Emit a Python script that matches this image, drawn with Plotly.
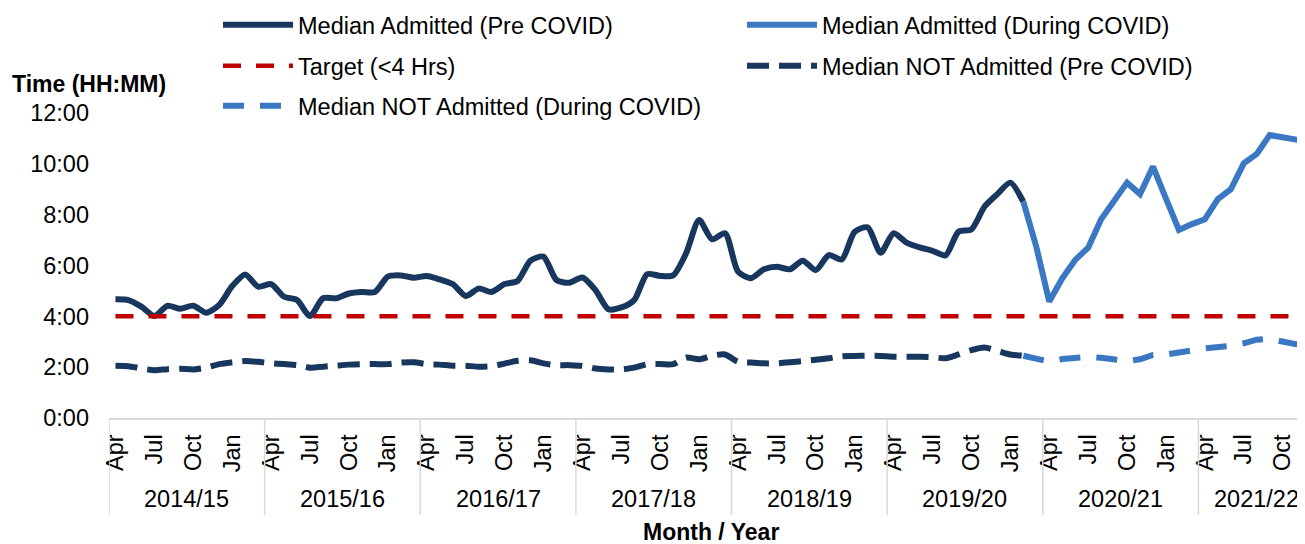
import plotly.graph_objects as go

# ---------------- data ----------------
FISCAL_YEARS = ["2014/15", "2015/16", "2016/17", "2017/18", "2018/19", "2019/20", "2020/21", "2021/22"]
FY_MONTHS = ["Apr", "May", "Jun", "Jul", "Aug", "Sep", "Oct", "Nov", "Dec", "Jan", "Feb", "Mar"]
MONTHS_IN_LAST_YEAR = 9          # Apr..Dec 2021
TICK_MONTHS = ["Apr", "Jul", "Oct", "Jan"]
Y_TICKS = [0, 2, 4, 6, 8, 10, 12]
Y_TICK_TEXT = ["0:00", "2:00", "4:00", "6:00", "8:00", "10:00", "12:00"]
TARGET_HOURS = 4

# Median time (hours) - admitted, pre COVID (Apr 2014 .. Feb 2020)
admitted_pre = [
    4.67, 4.64, 4.38, 4.01, 4.41, 4.30, 4.42, 4.14, 4.45, 5.19, 5.65, 5.17,
    5.27, 4.77, 4.64, 4.01, 4.71, 4.71, 4.90, 4.96, 4.96, 5.56, 5.61, 5.52,
    5.59, 5.45, 5.27, 4.80, 5.09, 4.96, 5.27, 5.39, 6.19, 6.35, 5.43, 5.32,
    5.53, 5.04, 4.28, 4.35, 4.64, 5.66, 5.59, 5.61, 6.48, 7.79, 7.03, 7.27,
    5.76, 5.50, 5.85, 5.95, 5.85, 6.19, 5.82, 6.41, 6.24, 7.33, 7.50, 6.50,
    7.27, 6.90, 6.71, 6.58, 6.40, 7.33, 7.42, 8.31, 8.81, 9.26, 8.51,
]
# admitted, during COVID (Feb 2020 .. Dec 2021)
admitted_during = [
    8.51, 6.74, 4.58, 5.49, 6.22, 6.70, 7.82, 8.54, 9.26, 8.81, 9.89, 8.63,
    7.40, 7.63, 7.82, 8.61, 9.00, 10.02, 10.39, 11.13, 11.04, 10.94, 10.87,
]
# not admitted, pre COVID (Apr 2014 .. Feb 2020)
not_admitted_pre = [
    2.06, 2.04, 1.95, 1.88, 1.92, 1.94, 1.91, 1.98, 2.12, 2.19, 2.24, 2.21,
    2.15, 2.12, 2.08, 1.98, 2.02, 2.06, 2.10, 2.12, 2.12, 2.12, 2.18, 2.19,
    2.12, 2.10, 2.06, 2.06, 2.02, 2.04, 2.14, 2.25, 2.27, 2.15, 2.08, 2.08,
    2.05, 1.95, 1.91, 1.91, 1.98, 2.11, 2.12, 2.12, 2.38, 2.31, 2.45, 2.50,
    2.21, 2.18, 2.15, 2.15, 2.19, 2.24, 2.29, 2.35, 2.43, 2.44, 2.45, 2.44,
    2.41, 2.41, 2.41, 2.39, 2.35, 2.50, 2.67, 2.77, 2.64, 2.50, 2.45,
]
# not admitted, during COVID (Feb 2020 .. Dec 2021)
not_admitted_during = [
    2.45, 2.35, 2.22, 2.32, 2.37, 2.40, 2.37, 2.29, 2.24, 2.31, 2.48, 2.50,
    2.61, 2.66, 2.74, 2.78, 2.84, 2.94, 3.08, 3.11, 3.03, 2.90, 3.00,
]

# ---------------- derived axis helpers ----------------
months, month_fy = [], []
for k, fy in enumerate(FISCAL_YEARS):
    n = 12 if k < len(FISCAL_YEARS) - 1 else MONTHS_IN_LAST_YEAR
    for m in FY_MONTHS[:n]:
        months.append(m)
        month_fy.append(fy)
idx = list(range(len(months)))
pre_x = idx[:len(admitted_pre)]
dur_x = idx[len(admitted_pre) - 1:len(admitted_pre) - 1 + len(admitted_during)]
tickvals = [i for i, m in enumerate(months) if m in TICK_MONTHS]
ticktext = [months[i] for i in tickvals]

DARK = "#17375E"
BLUE = "#3B78C4"
RED = "#C00000"
FONT = "Liberation Sans, Arial, sans-serif"
FS = 23.5
FSB = 23

fig = go.Figure()
fig.add_trace(go.Scatter(x=pre_x, y=admitted_pre, mode="lines", name="Median Admitted (Pre COVID)",
                         line=dict(color=DARK, width=6, shape="spline", smoothing=0.7), legend="legend"))
fig.add_trace(go.Scatter(x=dur_x, y=admitted_during, mode="lines", name="Median Admitted (During COVID)",
                         line=dict(color=BLUE, width=6), legend="legend"))
fig.add_trace(go.Scatter(x=idx, y=[TARGET_HOURS] * len(idx), mode="lines", name="Target (<4 Hrs)",
                         line=dict(color=RED, width=4.5, dash="18px,15px"), legend="legend2"))
fig.add_trace(go.Scatter(x=pre_x, y=not_admitted_pre, mode="lines", name="Median NOT Admitted (Pre COVID)",
                         line=dict(color=DARK, width=6, dash="22px,10px", shape="spline", smoothing=0.7),
                         legend="legend2"))
fig.add_trace(go.Scatter(x=dur_x, y=not_admitted_during, mode="lines", name="Median NOT Admitted (During COVID)",
                         line=dict(color=BLUE, width=6, dash="21px,16px"), legend="legend3"))

# page offset (body margin) and plot geometry, in page pixels
OFF = 8
W, H = 1305 - OFF, 544 - OFF
L = 109 - OFF
T = 113 - OFF
B = H - (418 - OFF)
plot_w = W - L
plot_h = H - T - B
x_end = 91.72


def py(sy):  # page pixel row -> paper y
    return (H - B - (sy - OFF)) / plot_h


def px(sx):  # page pixel column -> paper x
    return (sx - OFF - L) / plot_w


shapes, annotations = [], []
start = 0
for k, fy in enumerate(FISCAL_YEARS):
    n = month_fy.count(fy)
    shapes.append(dict(type="line", xref="x", yref="paper", x0=start - 0.5, x1=start - 0.5,
                       y0=0, y1=py(515), line=dict(color="#D9D9D9", width=1.5)))
    annotations.append(dict(xref="x", yref="paper", x=start + (n - 1) / 2, y=py(499), text=fy,
                            showarrow=False, font=dict(size=FS, color="black", family=FONT),
                            xanchor="center", yanchor="middle"))
    start += n

annotations.append(dict(xref="paper", yref="paper", x=px(711), y=py(532), text="<b>Month / Year</b>",
                        showarrow=False, font=dict(size=FSB, color="black", family=FONT),
                        xanchor="center", yanchor="middle"))
annotations.append(dict(xref="paper", yref="paper", x=px(10), y=py(84), text="<b>Time (HH:MM)</b>",
                        showarrow=False, font=dict(size=FSB, color="black", family=FONT),
                        xanchor="left", yanchor="middle"))

leg_common = dict(orientation="h", xanchor="left", yanchor="middle", entrywidth=439,
                  itemwidth=70, bgcolor="rgba(0,0,0,0)", borderwidth=0,
                  font=dict(size=FS, color="black", family=FONT))
leg_x = px(218)

fig.update_layout(
    width=W, height=H,
    margin=dict(l=L, r=0, t=T, b=B, pad=0, autoexpand=False),
    paper_bgcolor="white", plot_bgcolor="white",
    font=dict(family=FONT, size=FS, color="black"),
    xaxis=dict(range=[-0.5, x_end], tickmode="array", tickvals=tickvals, ticktext=ticktext,
               tickangle=-90, showgrid=False, zeroline=False, showline=True, linecolor="#D9D9D9",
               linewidth=2, ticks="", ticklabelstandoff=5, automargin=False,
               tickfont=dict(size=FS, family=FONT, color="black")),
    yaxis=dict(range=[0, 12], tickmode="array", tickvals=Y_TICKS, ticktext=Y_TICK_TEXT,
               showgrid=False, zeroline=False, showline=False, ticks="", ticklabelstandoff=19,
               automargin=False, tickfont=dict(size=FS, family=FONT, color="black")),
    legend=dict(x=leg_x, y=py(25), **leg_common),
    legend2=dict(x=leg_x, y=py(66), **leg_common),
    legend3=dict(x=leg_x, y=py(106), **leg_common),
    shapes=shapes, annotations=annotations,
    showlegend=True,
)

fig.write_html("out.html")
